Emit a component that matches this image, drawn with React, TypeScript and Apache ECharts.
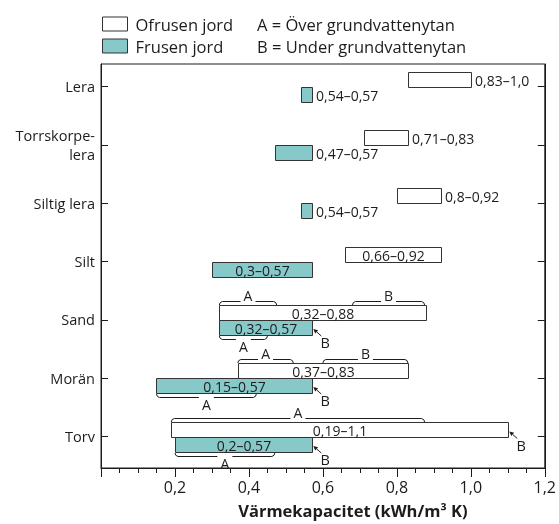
import React, { useEffect, useRef } from 'react';
import * as echarts from 'echarts';

const categories = ['Lera', 'Torrskorpe-\nlera', 'Siltig lera', 'Silt', 'Sand', 'Morän', 'Torv'];
const unfrozenMin = [0.83, 0.71, 0.8, 0.66, 0.32, 0.37, 0.19];
const unfrozenMax = [1.0, 0.83, 0.92, 0.92, 0.88, 0.83, 1.1];
const unfrozenLabels = ['0,83–1,0', '0,71–0,83', '0,8–0,92', '0,66–0,92', '0,32–0,88', '0,37–0,83', '0,19–1,1'];
const frozenMin = [0.54, 0.47, 0.54, 0.3, 0.32, 0.15, 0.2];
const frozenMax = [0.57, 0.57, 0.57, 0.57, 0.57, 0.57, 0.57];
const frozenLabels = ['0,54–0,57', '0,47–0,57', '0,54–0,57', '0,3–0,57', '0,32–0,57', '0,15–0,57', '0,2–0,57'];

// braces: category index, frozen bar?, from, to, letter
const braceCat = [4, 4, 4, 5, 5, 5, 6, 6];
const braceFrozen = [false, false, true, false, false, true, false, true];
const braceFrom = [0.32, 0.68, 0.32, 0.37, 0.6, 0.15, 0.19, 0.2];
const braceTo = [0.475, 0.875, 0.45, 0.52, 0.83, 0.42, 0.875, 0.47];
const braceLetter = ['A', 'B', 'A', 'A', 'B', 'A', 'A', 'A'];

// arrows pointing at bar ends
const arrowCat = [4, 5, 6, 6];
const arrowFrozen = [true, true, false, true];
const arrowX = [0.57, 0.57, 1.1, 0.57];
const arrowLetter = ['B', 'B', 'B', 'B'];

const xTitle = 'Värmekapacitet (kWh/m³ K)';
const legendNames = ['Ofrusen jord', 'Frusen jord'];
const legendNotes = ['A = Över grundvattenytan', 'B = Under grundvattenytan'];

const FONT = '"Open Sans", "Noto Sans", sans-serif';
const TEAL = '#87C8C8';
const INK = '#1E1B1C';
const BAR_H = 15;
const Y_MIN = -0.386;
const Y_MAX = 6.536;

function barSeries(name: string, mins: number[], maxs: number[], labels: string[], frozen: boolean) {
  return {
    name,
    type: 'custom',
    coordinateSystem: 'cartesian2d',
    encode: { x: [0, 1], y: 2 },
    itemStyle: { color: frozen ? TEAL : '#fff', borderColor: '#333' },
    data: mins.map((m, i) => [m, maxs[i], i]),
    renderItem: (params: any, api: any) => {
      const i = params.dataIndex;
      const s = api.coord([api.value(0), api.value(2)]);
      const e = api.coord([api.value(1), api.value(2)]);
      const x0 = Math.round(s[0]) + 0.5;
      const x1 = Math.round(e[0]) + 0.5;
      const c = Math.round(s[1]) + 0.5;
      const y0 = frozen ? c : c - BAR_H;
      const w = x1 - x0;
      const inside = w > 75;
      return {
        type: 'group',
        children: [
          {
            type: 'rect',
            shape: { x: x0, y: y0, width: w, height: BAR_H },
            style: { fill: frozen ? TEAL : '#fff', stroke: '#333', lineWidth: 1 },
          },
          {
            type: 'text',
            x: inside ? (x0 + x1) / 2 : x1 + 3.5,
            y: y0 + BAR_H / 2 + 0.5,
            style: {
              text: labels[i],
              fontSize: 14,
              fontFamily: FONT,
              fill: INK,
              align: inside ? 'center' : 'left',
              verticalAlign: 'middle',
            },
          },
        ],
      };
    },
  };
}

const braceSeries = {
  name: 'braces',
  type: 'custom',
  coordinateSystem: 'cartesian2d',
  encode: { x: [0, 1], y: 2 },
  silent: true,
  data: braceCat.map((c, i) => [braceFrom[i], braceTo[i], c]),
  renderItem: (params: any, api: any) => {
    const i = params.dataIndex;
    const s = api.coord([api.value(0), api.value(2)]);
    const e = api.coord([api.value(1), api.value(2)]);
    const dir = braceFrozen[i] ? 1 : -1;
    const c = Math.round(s[1]) + 0.5;
    const yLine = c + dir * 19;
    const yEnd = c + dir * 15.5;
    const x0 = s[0];
    const x1 = e[0];
    const mid = (x0 + x1) / 2;
    const gap = 7.5;
    const ls = { stroke: INK, lineWidth: 1, fill: null };
    return {
      type: 'group',
      children: [
        {
          type: 'polyline',
          shape: { points: [[x0, yEnd], [x0 + 0.8, yLine - dir * 1.2], [x0 + 3, yLine], [mid - gap, yLine]] },
          style: ls,
        },
        {
          type: 'polyline',
          shape: { points: [[mid + gap, yLine], [x1 - 3, yLine], [x1 - 0.8, yLine - dir * 1.2], [x1, yEnd]] },
          style: ls,
        },
        {
          type: 'text',
          x: mid,
          y: c + dir * 25.5,
          style: { text: braceLetter[i], fontSize: 14, fontFamily: FONT, fill: INK, align: 'center', verticalAlign: 'middle' },
        },
      ],
    };
  },
};

const arrowSeries = {
  name: 'arrows',
  type: 'custom',
  coordinateSystem: 'cartesian2d',
  encode: { x: 0, y: 1 },
  silent: true,
  data: arrowCat.map((c, i) => [arrowX[i], c]),
  renderItem: (params: any, api: any) => {
    const i = params.dataIndex;
    const p = api.coord([api.value(0), api.value(1)]);
    const c = Math.round(p[1]);
    const tip = [p[0] + 1.5, arrowFrozen[i] ? c + 9 : c - 5.5];
    const tail = [tip[0] + 8, tip[1] + 7];
    const len = Math.hypot(8, 7);
    const ux = -8 / len;
    const uy = -7 / len;
    const hl = 4.5;
    const hw = 2.2;
    const base = [tip[0] - ux * hl, tip[1] - uy * hl];
    const n = [-uy, ux];
    return {
      type: 'group',
      children: [
        {
          type: 'line',
          shape: { x1: tail[0], y1: tail[1], x2: base[0], y2: base[1] },
          style: { stroke: INK, lineWidth: 1 },
        },
        {
          type: 'polygon',
          shape: {
            points: [
              tip,
              [base[0] + n[0] * hw, base[1] + n[1] * hw],
              [base[0] - n[0] * hw, base[1] - n[1] * hw],
            ],
          },
          style: { fill: INK },
        },
        {
          type: 'text',
          x: tip[0] + 12,
          y: tip[1] + 13.5,
          style: { text: arrowLetter[i], fontSize: 14.5, fontFamily: FONT, fill: INK, align: 'center', verticalAlign: 'middle' },
        },
      ],
    };
  },
};

export default function App() {
  const ref = useRef<HTMLDivElement>(null);
  useEffect(() => {
    if (!ref.current) return;
    const chart = echarts.init(ref.current, null, { renderer: 'svg' });
    const catIdx = categories.map((_, i) => i);
    const yCommon = {
      type: 'value',
      inverse: true,
      min: Y_MIN,
      max: Y_MAX,
      splitLine: { show: false },
      axisLine: { show: true, onZero: false, lineStyle: { color: INK, width: 1 } },
      axisTick: { show: true, inside: true, length: 7, customValues: catIdx, lineStyle: { color: INK, width: 1 } },
    };
    chart.setOption({
      animation: false,
      grid: { left: 101, right: 14, top: 64, bottom: 53, show: true, borderColor: INK, borderWidth: 1, backgroundColor: 'transparent' },
      legend: {
        orient: 'vertical',
        left: 102,
        top: 14,
        padding: 0,
        itemWidth: 25,
        itemHeight: 14,
        itemGap: 2,
        selectedMode: false,
        textStyle: { fontSize: 16.5, lineHeight: 20, color: INK, fontFamily: FONT, padding: [0, 0, 0, 3] },
        data: [
          { name: legendNames[0], icon: 'rect', itemStyle: { color: '#fff', borderColor: '#333', borderWidth: 1 } },
          { name: legendNames[1], icon: 'rect', itemStyle: { color: TEAL, borderColor: '#333', borderWidth: 1 } },
        ],
      },
      graphic: [
        { type: 'text', left: 257, top: 14, style: { text: legendNotes[0], fontSize: 16.5, lineHeight: 20, fill: INK, fontFamily: FONT } },
        { type: 'text', left: 257, top: 36, style: { text: legendNotes[1], fontSize: 16.5, lineHeight: 20, fill: INK, fontFamily: FONT } },
      ],
      xAxis: {
        type: 'value',
        min: 0,
        max: 1.2,
        interval: 0.2,
        position: 'bottom',
        axisLine: { show: true, onZero: false, lineStyle: { color: INK, width: 1 } },
        axisTick: { show: true, inside: false, length: 9, lineStyle: { color: INK, width: 1 } },
        minorTick: { show: true, splitNumber: 4, length: 5, lineStyle: { color: INK, width: 1 } },
        splitLine: { show: false },
        minorSplitLine: { show: false },
        axisLabel: {
          formatter: (v: number) => (v === 0 ? '' : v.toFixed(1).replace('.', ',')),
          fontSize: 16,
          color: INK,
          fontFamily: FONT,
          margin: 11,
        },
        name: xTitle,
        nameLocation: 'middle',
        nameGap: 34,
        nameTextStyle: { fontSize: 16.5, fontWeight: 'bold', color: INK, fontFamily: FONT, padding: [0, 0, 0, 60] },
      },
      yAxis: [
        {
          ...yCommon,
          position: 'left',
          axisLabel: {
            customValues: catIdx,
            formatter: (v: number) => categories[Math.round(v)] ?? '',
            fontSize: 14.5,
            color: INK,
            fontFamily: FONT,
            margin: 6,
            lineHeight: 19,
          },
        },
        {
          ...yCommon,
          position: 'right',
          axisLabel: { show: false },
        },
      ],
      series: [
        barSeries(legendNames[0], unfrozenMin, unfrozenMax, unfrozenLabels, false),
        barSeries(legendNames[1], frozenMin, frozenMax, frozenLabels, true),
        braceSeries,
        arrowSeries,
      ],
    });
    return () => chart.dispose();
  }, []);
  return <div ref={ref} style={{ position: 'fixed', left: 0, top: 0, width: 559, height: 524 }} />;
}
